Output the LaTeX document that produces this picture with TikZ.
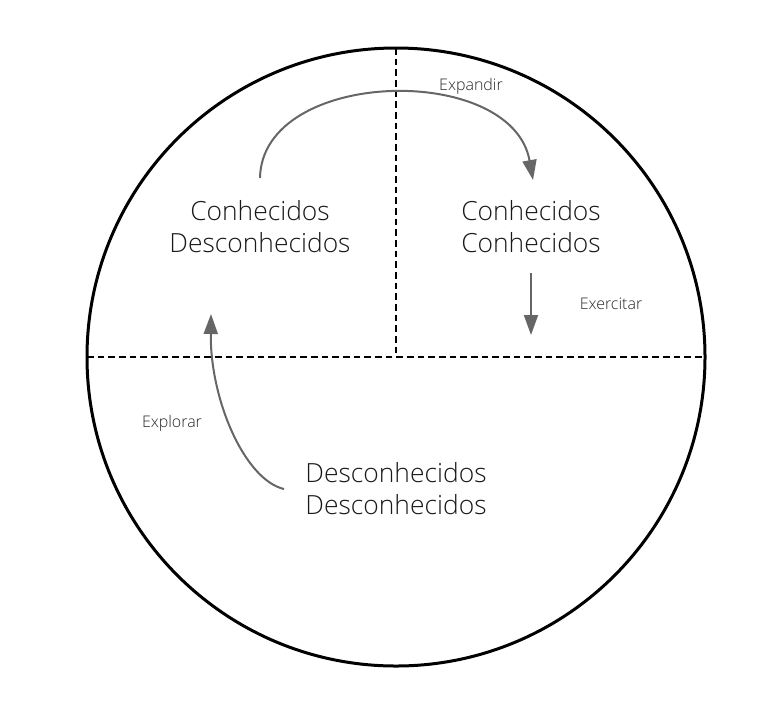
\documentclass[tikz,border=0pt]{standalone}
\usepackage{fontspec}
\setmainfont{Open Sans}[UprightFont = * Light]
\usetikzlibrary{arrows.meta}

\tikzset{
	quad/.style={align=center, text=black!90, font=\fontsize{19.8}{24}\selectfont},
	rotulo/.style={text=black!85, font=\fontsize{12}{14}\selectfont},
	seta/.style={draw=black!60, line width=1.5pt, -{Triangle[length=15pt, width=10.5pt, fill=black!60]}}
}

\begin{document}
\begin{tikzpicture}[x=0.75pt, y=-0.75pt]
		\useasboundingbox (0,0) rectangle (780,718);
		\draw [line width=2.25pt] (396,357) circle (309);
		\draw [dashed, line width=1.5pt, dash pattern=on 5pt off 3pt] (87,357) -- (705,357);
		\draw [dashed, line width=1.5pt, dash pattern=on 5pt off 3pt] (396,48) -- (396,357);
		
		\node[quad] (cd) at (260,227) {Conhecidos\\Desconhecidos};
		\node[quad] (cc) at (531,227) {Conhecidos\\Conhecidos};
		\node[quad] (dd) at (396,489) {Desconhecidos\\Desconhecidos};
		
		\coordinate (a1) at (260,178);
		\coordinate (a2) at (533,180);
		\coordinate (b1) at (531,273);
		\coordinate (b2) at (531,335);
		\coordinate (c1) at (284,489);
		\coordinate (c2) at (211,314);
		
		\draw [seta] (a1) .. controls (262,68) and (512,62) .. (a2);
		\draw [seta] (b1) -- (b2);
		\draw [seta] (c1) .. controls (245,480) and (210,400) .. (c2);
		
		\node[rotulo] (ea) at (471,86) {Expandir};
		\node[rotulo] (ex) at (611,304) {Exercitar};
		\node[rotulo] (ep) at (172,423) {Explorar};
	\end{tikzpicture}
\end{document}
